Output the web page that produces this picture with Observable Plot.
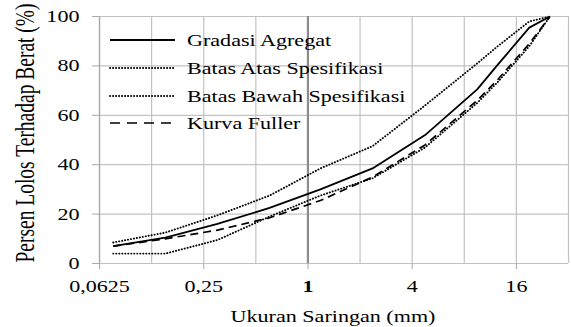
<!DOCTYPE html>
<html>
<head>
<meta charset="utf-8">
<script src="https://cdn.jsdelivr.net/npm/d3@7"></script>
<script src="https://cdn.jsdelivr.net/npm/@observablehq/plot@0.6"></script>
<style>
  body { margin: 0; background: #fff; }
  #chart { width: 571px; height: 327px; }
</style>
</head>
<body>
<div id="chart"></div>
<script>
// Sieve sizes (mm) and percent passing for each curve
const sieveSizes     = [0.075, 0.15, 0.3, 0.6, 1.18, 2.36, 4.75, 9.5, 12.5, 19, 25];
const gradasiAgregat = [7, 10.5, 16, 22.5, 30, 38.5, 52, 70.5, 80.5, 95.5, 100];
const batasAtas      = [8.5, 12.5, 19.5, 27.5, 38.5, 47.5, 64, 81, 88, 98, 100];
const batasBawah     = [4, 4, 9.5, 19, 27.5, 34.5, 47, 65, 73.5, 88, 100];
const kurvaFuller    = [7, 10, 13.5, 18.5, 25.5, 35, 48, 66, 74.5, 89, 100];

const seriesNames = ["Gradasi Agregat", "Batas Atas Spesifikasi", "Batas Bawah Spesifikasi", "Kurva Fuller"];
const seriesValues = [gradasiAgregat, batasAtas, batasBawah, kurvaFuller];

const xTicks = [0.0625, 0.25, 1, 4, 16];
const xTickLabels = ["0,0625", "0,25", "1", "4", "16"];
const xGrid = [0.0625, 0.125, 0.25, 0.5, 1, 2, 4, 8, 16, 32];
const yTicks = [0, 20, 40, 60, 80, 100];

const xTitle = "Ukuran Saringan (mm)";
const yTitle = "Persen Lolos Terhadap Berat (%)";

const lineStyles = {
  "Gradasi Agregat":         {strokeWidth: 1.8, dash: null, cap: "butt"},
  "Batas Atas Spesifikasi":  {strokeWidth: 1.9, dash: "0.2,2.8", cap: "round"},
  "Batas Bawah Spesifikasi": {strokeWidth: 1.9, dash: "0.2,2.8", cap: "round"},
  "Kurva Fuller":            {strokeWidth: 1.7, dash: "8,5", cap: "butt"}
};

const FONT = "'Liberation Serif', 'Times New Roman', serif";
const STRETCH = 1.3; // horizontal widening of the serif lettering

const grid = "#c2c2c2";

const lineMarks = seriesNames.map((name, k) => {
  const rows = sieveSizes.map((s, i) => ({size: s, pct: seriesValues[k][i]}));
  const st = lineStyles[name];
  return Plot.line(rows, {
    x: "size", y: "pct", stroke: "#000",
    strokeWidth: st.strokeWidth,
    strokeDasharray: st.dash ?? undefined,
    strokeLinecap: st.cap,
    strokeLinejoin: "round"
  });
});

const chart = Plot.plot({
  width: 571,
  height: 327,
  marginLeft: 99,
  marginRight: 3,
  marginTop: 16,
  marginBottom: 64,
  style: {fontFamily: FONT, fontSize: "17px", background: "#fff", color: "#000", overflow: "visible"},
  x: {type: "log", base: 2, domain: [0.0625, 32]},
  y: {domain: [0, 100]},
  marks: [
    Plot.ruleX(xGrid, {stroke: grid, strokeWidth: 1.2}),
    Plot.ruleY(yTicks, {stroke: grid, strokeWidth: 1.2}),
    Plot.ruleX([0.0625], {stroke: "#a8a8a8", strokeWidth: 1.3}),
    Plot.ruleX([1], {stroke: "#8c8c8c", strokeWidth: 2.2}),
    Plot.axisX({
      ticks: xTicks,
      tickFormat: d => xTickLabels[xTicks.indexOf(d)],
      tickSize: 6, tickPadding: 10, stroke: "#a8a8a8",
      label: null
    }),
    Plot.axisY({
      ticks: yTicks,
      tickSize: 7, tickPadding: 13, stroke: "#a8a8a8",
      label: null
    }),
    ...lineMarks
  ]
});

document.getElementById("chart").appendChild(chart);

const svg = d3.select(chart);

// widen tick lettering around each label's anchor
svg.selectAll("text").each(function () {
  const t = this.getAttribute("transform") || "";
  this.setAttribute("transform", t + ` scale(${STRETCH},1)`);
  this.style.fill = "#000";
});

// the "1" tick label is bold
svg.selectAll("text").filter(function () { return this.textContent === "1"; })
  .attr("font-weight", "bold");

// axis titles
svg.append("text")
  .attr("transform", `translate(333,322) scale(${STRETCH},1)`)
  .attr("text-anchor", "middle")
  .attr("font-family", FONT)
  .attr("font-size", 17)
  .attr("fill", "#000")
  .text(xTitle);

svg.append("text")
  .attr("transform", `translate(34,133) rotate(-90) scale(1,1.35)`)
  .attr("text-anchor", "middle")
  .attr("font-family", FONT)
  .attr("font-size", 19.5)
  .attr("fill", "#000")
  .text(yTitle);

// legend in the upper-left of the frame
const legendRows = [40, 68, 96, 123];
const legend = svg.append("g");
seriesNames.forEach((name, i) => {
  const st = lineStyles[name];
  legend.append("line")
    .attr("x1", 110).attr("x2", 175)
    .attr("y1", legendRows[i]).attr("y2", legendRows[i])
    .attr("stroke", "#000")
    .attr("stroke-width", st.strokeWidth)
    .attr("stroke-linecap", st.cap)
    .attr("stroke-dasharray", name === "Kurva Fuller" ? "10,7" : st.dash);
  legend.append("text")
    .attr("transform", `translate(187,${legendRows[i] + 6}) scale(${STRETCH},1)`)
    .attr("text-anchor", "start")
    .attr("font-family", FONT)
    .attr("font-size", 17)
    .attr("fill", "#000")
    .text(name);
});
</script>
</body>
</html>
